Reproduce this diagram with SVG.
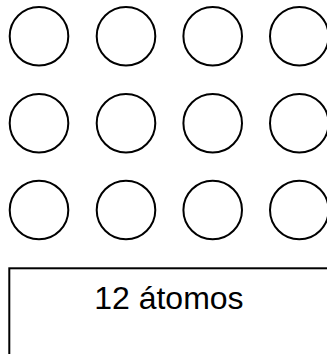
<svg xmlns="http://www.w3.org/2000/svg" width="327" height="354" viewBox="0 0 327 354">
<style>
.atom{fill:none;stroke:#000;stroke-width:2}
.box{fill:none;stroke:#000;stroke-width:2}
.lbl{font-family:"Liberation Sans",Arial,sans-serif;font-size:32px;fill:#000}
</style>
<rect width="327" height="354" fill="#fff"/>
<g id="atoms">
<g id="a1"><circle class="atom" cx="39" cy="36.3" r="29.3"/></g>
<g id="a2"><circle class="atom" cx="126" cy="36.3" r="29.3"/></g>
<g id="a3"><circle class="atom" cx="212.7" cy="36.3" r="29.3"/></g>
<g id="a4"><circle class="atom" cx="299.3" cy="36.3" r="29.3"/></g>
<g id="a5"><circle class="atom" cx="39" cy="123.3" r="29.3"/></g>
<g id="a6"><circle class="atom" cx="126" cy="123.3" r="29.3"/></g>
<g id="a7"><circle class="atom" cx="212.7" cy="123.3" r="29.3"/></g>
<g id="a8"><circle class="atom" cx="299.3" cy="123.3" r="29.3"/></g>
<g id="a9"><circle class="atom" cx="39" cy="210" r="29.3"/></g>
<g id="a10"><circle class="atom" cx="126" cy="210" r="29.3"/></g>
<g id="a11"><circle class="atom" cx="212.7" cy="210" r="29.3"/></g>
<g id="a12"><circle class="atom" cx="299.3" cy="210" r="29.3"/></g>
</g>
<g id="label-box">
<rect class="box" x="9.3" y="268.3" width="340" height="120"/>
<text class="lbl" x="94.2" y="309.3">12 átomos</text>
</g>
</svg>
